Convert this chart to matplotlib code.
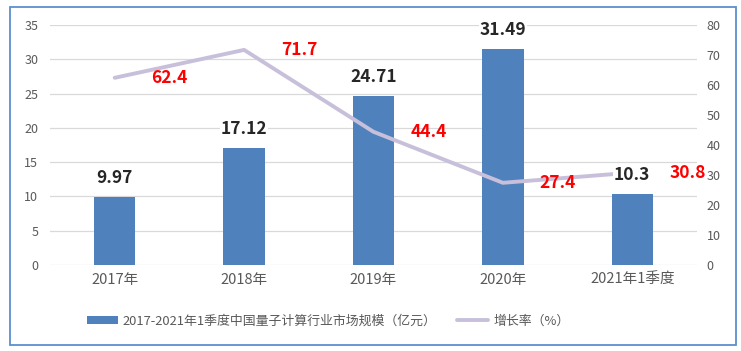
import matplotlib.pyplot as plt
from matplotlib.patches import Rectangle

plt.rcParams['font.family'] = ['Noto Sans CJK SC', 'DejaVu Sans']

categories = ['2017年', '2018年', '2019年', '2020年', '2021年1季度']
market_size = [9.97, 17.12, 24.71, 31.49, 10.3]
growth_rate = [62.4, 71.7, 44.4, 27.4, 30.8]
bar_labels = ['9.97', '17.12', '24.71', '31.49', '10.3']
rate_labels = ['62.4', '71.7', '44.4', '27.4', '30.8']

bar_color = '#4F81BD'
line_color = '#C8C0DA'
tick_color = '#595959'

fig = plt.figure(figsize=(7.41, 3.51), dpi=100)
ax = fig.add_axes([0.0675, 0.245, 0.8731, 0.6838])
ax2 = ax.twinx()

x = list(range(len(categories)))
ax.bar(x, market_size, width=0.32, color=bar_color, zorder=2,
       label='2017-2021年1季度中国量子计算行业市场规模（亿元）')
ax2.plot(x, growth_rate, color=line_color, linewidth=2.8,
         solid_capstyle='round', label='增长率（%）', zorder=3)

ax.set_xlim(-0.5, 4.5)
ax.set_ylim(0, 35)
ax.set_yticks(range(0, 36, 5))
ax2.set_ylim(0, 80)
ax2.set_yticks(range(0, 81, 10))
ax.set_xticks(x)
ax.set_xticklabels(categories)

ax.grid(axis='y', color='#D9D9D9', linewidth=0.9, zorder=0)
ax.set_axisbelow(True)
for a in (ax, ax2):
    for s in a.spines.values():
        s.set_visible(False)
ax.tick_params(axis='y', length=0, pad=8.5, labelsize=9, labelcolor=tick_color)
ax.tick_params(axis='x', length=0, pad=6, labelsize=10.5, labelcolor=tick_color)
ax2.tick_params(axis='y', length=0, pad=7, labelsize=9, labelcolor=tick_color)

# bar value labels (white box hides the line behind 10.3)
for i, v in enumerate(market_size):
    ax2.annotate(bar_labels[i], xy=(i, v), xycoords=ax.transData,
                 xytext=(0, 10), textcoords='offset pixels',
                 ha='center', va='bottom', fontsize=12.5, fontweight='bold',
                 color='#262626', zorder=5,
                 bbox=dict(boxstyle='square,pad=0.05', fc='white', ec='none'))

for i, v in enumerate(growth_rate):
    ax2.annotate(rate_labels[i], xy=(i, v), xytext=(55, 0),
                 textcoords='offset pixels', ha='center', va='center',
                 fontsize=12.5, fontweight='bold', color='#FF0000', zorder=5)

h1, l1 = ax.get_legend_handles_labels()
h2, l2 = ax2.get_legend_handles_labels()
fig.legend(h1 + h2, l1 + l2, loc='center', bbox_to_anchor=(0.443, 0.085),
           ncol=2, frameon=False, fontsize=9.3, labelcolor=tick_color,
           handlelength=2.4, handleheight=0.6, handletextpad=0.4,
           columnspacing=1.6)

fig.patches.append(Rectangle((10 / 741, 1 - 345 / 351), 726 / 741, 338 / 351,
                             transform=fig.transFigure, fill=False,
                             edgecolor='#5B8FD0', linewidth=1.3))

fig.savefig('out.png', dpi=100)
